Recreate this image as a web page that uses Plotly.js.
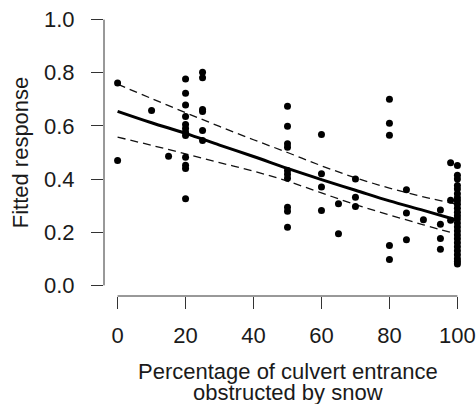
<!DOCTYPE html>
<html><head><meta charset="utf-8">
<script src="https://cdn.plot.ly/plotly-3.0.1.min.js"></script>
<style>html,body{margin:0;padding:0;background:#fff}#chart{width:476px;height:404px}</style>
</head><body><div id="chart"></div>
<script>
// Observed points (percentage obstructed, fitted response)
const obsX = [
  0, 0,
  10,
  15,
  20, 20, 20, 20, 20, 20, 20, 20, 20, 20, 20, 20,
  25, 25, 25, 25, 25, 25,
  50, 50, 50, 50, 50, 50, 50, 50, 50, 50,
  60, 60, 60, 60,
  65, 65,
  70, 70, 70,
  80, 80, 80, 80, 80,
  85, 85, 85,
  90,
  95, 95, 95, 95,
  98, 98, 98,
  100, 100, 100, 100, 100, 100, 100, 100, 100, 100, 100, 100, 100,
  100, 100, 100, 100, 100, 100, 100, 100, 100, 100, 100, 100
];
const obsY = [
  0.762, 0.470,
  0.658,
  0.486,
  0.777, 0.723, 0.679, 0.635, 0.605, 0.590, 0.576, 0.564, 0.482, 0.452, 0.440, 0.326,
  0.802, 0.781, 0.662, 0.654, 0.583, 0.545,
  0.674, 0.599, 0.533, 0.520, 0.432, 0.418, 0.403, 0.294, 0.279, 0.219,
  0.568, 0.420, 0.370, 0.282,
  0.307, 0.194,
  0.400, 0.332, 0.297,
  0.700, 0.610, 0.565, 0.150, 0.097,
  0.360, 0.272, 0.172,
  0.247,
  0.284, 0.230, 0.176, 0.136,
  0.461, 0.320, 0.245,
  0.451, 0.414, 0.400, 0.376, 0.363, 0.345, 0.330, 0.318, 0.305, 0.290, 0.275, 0.262, 0.250,
  0.235, 0.220, 0.205, 0.190, 0.175, 0.160, 0.145, 0.130, 0.115, 0.100, 0.090, 0.080
];
// Fitted curve and confidence band
const fitX   = [0, 10, 20, 30, 40, 50, 60, 70, 80, 90, 100];
const fitY   = [0.655, 0.612, 0.572, 0.528, 0.485, 0.440, 0.398, 0.358, 0.318, 0.282, 0.245];
const upperY = [0.757, 0.703, 0.650, 0.598, 0.548, 0.500, 0.450, 0.405, 0.366, 0.333, 0.305];
const lowerY = [0.558, 0.527, 0.495, 0.462, 0.430, 0.392, 0.348, 0.304, 0.265, 0.228, 0.192];
// Axis ticks
const xTicks = [0, 20, 40, 60, 80, 100];
const yTicks = [0, 0.2, 0.4, 0.6, 0.8, 1.0];
const yTickText = ['0.0', '0.2', '0.4', '0.6', '0.8', '1.0'];
const xTitle1 = 'Percentage of culvert entrance';
const xTitle2 = 'obstructed by snow';
const yTitle = 'Fitted response';

const FONT = '"Liberation Sans", Arial, Helvetica, sans-serif';
const INK = '#1a1a1a';

const traces = [
  {x: fitX, y: upperY, mode: 'lines', line: {color: '#111', width: 1.3, dash: '8px,5px', shape: 'spline'}, hoverinfo: 'skip'},
  {x: fitX, y: lowerY, mode: 'lines', line: {color: '#111', width: 1.3, dash: '8px,5px', shape: 'spline'}, hoverinfo: 'skip'},
  {x: fitX, y: fitY, mode: 'lines', line: {color: '#000', width: 3, shape: 'spline'}, hoverinfo: 'skip'},
  {x: obsX, y: obsY, mode: 'markers', marker: {color: '#000', size: 7}}
];

const layout = {
  width: 476, height: 404,
  margin: {l: 104, r: 5, t: 9, b: 108},
  paper_bgcolor: '#fff', plot_bgcolor: '#fff',
  showlegend: false,
  font: {family: FONT, size: 22, color: INK},
  xaxis: {
    range: [-4, 104], tickvals: xTicks, ticktext: xTicks.map(String),
    ticks: 'outside', ticklen: 12, tickwidth: 1, tickcolor: '#333',
    showgrid: false, zeroline: false, showline: false,
    ticklabelstandoff: 8,
    tickfont: {family: FONT, size: 22, color: INK}
  },
  yaxis: {
    range: [-0.04, 1.04], tickvals: yTicks, ticktext: yTickText,
    ticks: 'outside', ticklen: 12, tickwidth: 1, tickcolor: '#333',
    showgrid: false, zeroline: false, showline: false,
    ticklabelstandoff: 12,
    tickfont: {family: FONT, size: 22, color: INK},
    title: {text: yTitle, standoff: 9, font: {family: FONT, size: 22, color: INK}}
  },
  shapes: [
    {type: 'line', xref: 'x', yref: 'paper', x0: xTicks[0], x1: xTicks[xTicks.length - 1], y0: 0, y1: 0, line: {color: '#333', width: 1}},
    {type: 'line', xref: 'paper', yref: 'y', x0: 0, x1: 0, y0: yTicks[0], y1: yTicks[yTicks.length - 1], line: {color: '#333', width: 1}}
  ],
  annotations: [
    {text: xTitle1, xref: 'x', yref: 'paper', x: 50, y: 0, yanchor: 'middle', yshift: -75, showarrow: false, font: {family: FONT, size: 22, color: INK}},
    {text: xTitle2, xref: 'x', yref: 'paper', x: 50, y: 0, yanchor: 'middle', yshift: -96, showarrow: false, font: {family: FONT, size: 22, color: INK}}
  ]
};

Plotly.newPlot('chart', traces, layout, {staticPlot: true, displayModeBar: false});
</script>
</body></html>
